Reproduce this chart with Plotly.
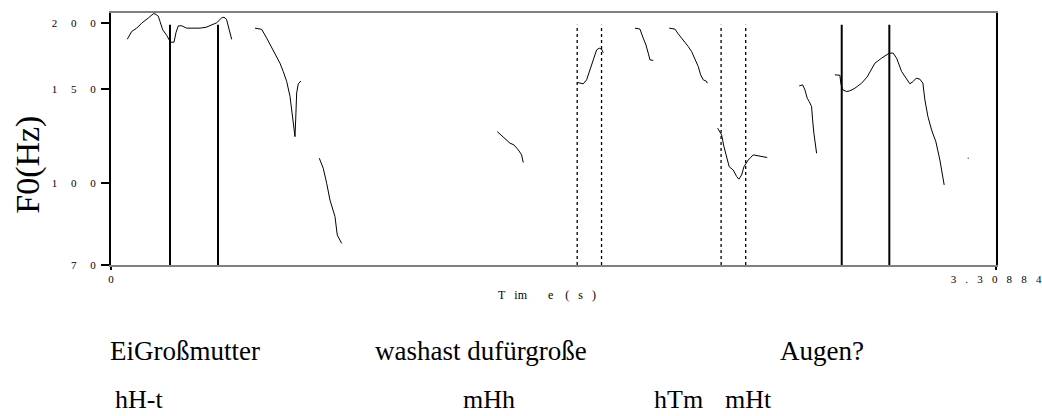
import math
import plotly.graph_objects as go

# ---------------- data ----------------
t_max = 3.30884
f_min, f_max = 70, 209

seg1_t = [0.0609, 0.0774, 0.0961, 0.1148, 0.1394, 0.1581, 0.1645, 0.1768, 0.1832, 0.1933, 0.2082, 0.2224, 0.2355,
          0.2430, 0.2516, 0.2643, 0.2830, 0.3065, 0.3327, 0.3551, 0.3738, 0.3951, 0.4131, 0.4224, 0.4318, 0.4385,
          0.4449, 0.4512]
seg1_f = [186.5, 192.9, 195.7, 200.0, 204.5, 208.3, 208.3, 206.1, 201.5, 194.3, 189.7, 184.1, 184.1,
          191.9, 197.7, 197.7, 195.7, 195.6, 195.7, 196.4, 198.1, 200.3, 204.5, 205.2, 203.4, 197.7,
          191.8, 186.4]

seg2_t = [0.5383, 0.5634, 0.5821, 0.6007, 0.6131, 0.6318, 0.6441, 0.6568, 0.6692, 0.6778, 0.6879, 0.6905, 0.6942,
          0.7002, 0.7103]
seg2_f = [195.7, 194.7, 187.4, 179.5, 174.3, 168.1, 162.1, 155.3, 145.6, 135.5, 122.2, 131.4, 147.7, 153.7, 155.6]

seg3_t = [0.7787, 0.7936, 0.8064, 0.8187, 0.8374, 0.8460, 0.8624]
seg3_f = [111.3, 106.5, 99.8, 92.8, 86.4, 79.7, 76.9]

seg4_t = [1.4441, 1.4606, 1.4793, 1.4916, 1.5065, 1.5226, 1.5353, 1.5413]
seg4_f = [124.9, 122.6, 120.1, 118.8, 117.9, 115.4, 112.9, 109.2]

seg5_t = [1.7432, 1.7656, 1.7783, 1.7907, 1.8030, 1.8157, 1.8254, 1.8344, 1.8404]
seg5_f = [154.6, 153.7, 156.4, 163.3, 171.8, 178.1, 179.4, 178.6, 176.0]

seg6_t = [1.9589, 1.9776, 1.9899, 2.0000, 2.0086, 2.0150, 2.0273]
seg6_f = [195.7, 194.9, 187.4, 182.0, 175.6, 170.6, 170.1]

seg7_t = [2.0871, 2.1084, 2.1208, 2.1394, 2.1581, 2.1708, 2.1832, 2.1955, 2.2045, 2.2142, 2.2269, 2.2292]
seg7_f = [195.7, 194.9, 190.9, 186.0, 180.7, 176.8, 170.6, 165.7, 159.8, 156.4, 155.3, 154.1]

seg8_t = [2.2680, 2.2830, 2.2916, 2.3017, 2.3114, 2.3264, 2.3391, 2.3477, 2.3578, 2.3664, 2.3824, 2.4011,
          2.4198, 2.4325, 2.4535]
seg8_f = [126.8, 123.1, 117.1, 112.1, 107.2, 105.7, 102.8, 101.6, 103.5, 107.2, 110.4, 112.9,
          112.4, 111.8, 111.6]

seg9_t = [2.5731, 2.5858, 2.5944, 2.6030, 2.6105, 2.6194, 2.6232, 2.6280, 2.6381]
seg9_f = [152.3, 153.0, 149.7, 144.4, 142.3, 139.2, 131.4, 124.0, 113.7]

seg10_t = [2.7065, 2.7252, 2.7290, 2.7364, 2.7503, 2.7626, 2.7813, 2.8064, 2.8273, 2.8374, 2.8561, 2.8811,
           2.8998, 2.9095, 2.9245, 2.9372, 2.9559, 2.9746, 2.9869, 2.9993, 3.0105, 3.0243, 3.0355, 3.0430,
           3.0542, 3.0680, 3.0841, 3.0991, 3.1065, 3.1151]
seg10_f = [159.8, 159.5, 153.7, 149.7, 148.6, 149.1, 150.8, 154.1, 158.4, 162.1, 168.1, 171.8,
           174.3, 175.6, 175.6, 171.8, 162.1, 156.4, 153.7, 155.3, 157.5, 156.8, 154.1, 143.3,
           133.4, 125.8, 119.5, 110.4, 104.8, 99.1]

seg11_t = [3.2030, 3.2068]
seg11_f = [111.3, 111.3]

solid_marks = [0.2206, 0.4000, 2.7320, 2.9100]
dotted_marks = [1.7430, 1.8340, 2.2810, 2.3730]
mark_top = 198.6

y_ticks = [70, 100, 150, 200]
x_ticks = [0, t_max]
x_tick_labels = ["0", "3.30884"]

words = ["EiGroßmutter", "washast dufürgroße", "Augen?"]
words_t = [-0.011, 0.979, 2.493]
tones = ["hH-t", "mHh", "hTm", "mHt"]
tones_t = [0.0075, 1.308, 2.022, 2.288]

# ---------------- figure ----------------
FONT = "Liberation Serif"


def spaced(s, sep):
    return sep.join(list(s))


segments = [(seg1_t, seg1_f), (seg2_t, seg2_f), (seg3_t, seg3_f), (seg4_t, seg4_f), (seg5_t, seg5_f),
            (seg6_t, seg6_f), (seg7_t, seg7_f), (seg8_t, seg8_f), (seg9_t, seg9_f), (seg10_t, seg10_f),
            (seg11_t, seg11_f)]

xs, ys = [], []
for tt, ff in segments:
    xs += list(tt) + [None]
    ys += list(ff) + [None]

fig = go.Figure()
fig.add_trace(go.Scatter(x=xs, y=ys, mode="lines", line=dict(color="black", width=1),
                         connectgaps=False, showlegend=False, hoverinfo="skip"))

for t in solid_marks:
    fig.add_trace(go.Scatter(x=[t, t], y=[f_min, mark_top], mode="lines",
                             line=dict(color="black", width=2), showlegend=False, hoverinfo="skip"))
for t in dotted_marks:
    fig.add_trace(go.Scatter(x=[t, t], y=[f_min, mark_top], mode="lines",
                             line=dict(color="black", width=1.3, dash="dot"), showlegend=False,
                             hoverinfo="skip"))

fig.update_layout(
    width=1042, height=416,
    margin=dict(l=111, r=46, t=13, b=151),
    paper_bgcolor="white", plot_bgcolor="white",
    font=dict(family=FONT, color="black"),
    xaxis=dict(range=[0, t_max], showgrid=False, zeroline=False, automargin=False,
               showline=True, linecolor="#808080", linewidth=1.5, mirror=True,
               tickmode="array", tickvals=x_ticks,
               ticktext=[spaced(s, "\u2002\u00a0\u200a") for s in x_tick_labels],
               ticks="outside", ticklen=3, tickwidth=1.5, tickcolor="black",
               tickfont=dict(family=FONT, size=11, color="black")),
    yaxis=dict(type="log", range=[math.log10(f_min), math.log10(f_max)], showgrid=False, zeroline=False,
               automargin=False,
               showline=True, linecolor="black", linewidth=2, mirror=True,
               tickmode="array", tickvals=y_ticks,
               ticktext=[spaced(str(v), "\u2003\u00a0") for v in y_ticks],
               ticks="outside", ticklen=8, tickwidth=1.5, tickcolor="black",
               ticklabelstandoff=3,
               tickfont=dict(family=FONT, size=11, color="black")),
)

ann = []
ann.append(dict(text="F0(Hz)", xref="paper", yref="paper", x=-0.094, y=0.397, textangle=-90,
                showarrow=False, xanchor="center", yanchor="middle",
                font=dict(family=FONT, size=34, color="black")))
ann.append(dict(text="T\u2002\u00a0im\u2003\u2002\u00a0e\u2003(\u2002\u00a0s\u2002\u00a0)",
                xref="paper", yref="paper", x=0.493, y=-0.119, showarrow=False,
                xanchor="center", yanchor="middle", font=dict(family=FONT, size=12, color="black")))
for w, t in zip(words, words_t):
    ann.append(dict(text=w, xref="paper", yref="paper", x=t / t_max, y=-0.341, showarrow=False,
                    xanchor="left", yanchor="middle", font=dict(family=FONT, size=27, color="black")))
for w, t in zip(tones, tones_t):
    ann.append(dict(text=w, xref="paper", yref="paper", x=t / t_max, y=-0.532, showarrow=False,
                    xanchor="left", yanchor="middle", font=dict(family=FONT, size=26, color="black")))
fig.update_layout(annotations=ann)

fig.write_html("out.html")
